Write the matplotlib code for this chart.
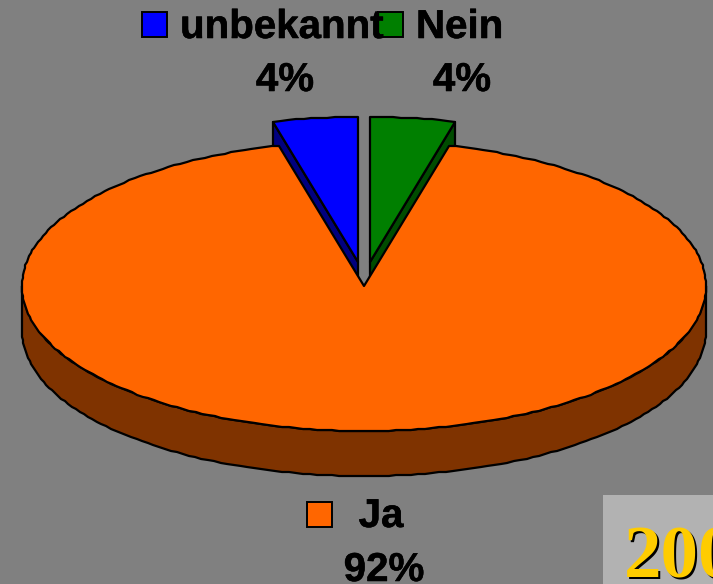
import numpy as np
from matplotlib import pyplot as plt
from matplotlib.patches import Polygon, Rectangle
from matplotlib import patheffects

labels = ["unbekannt", "Nein", "Ja"]
shares = [4, 4, 92]
share_text = ["4%", "4%", "92%"]
colors = ["#0000ff", "#007f00", "#ff6600"]
side_colors = ["#00007f", "#004c00", "#7f3300"]
year = "2000"

plt.rcParams['font.family'] = ['Liberation Sans', 'DejaVu Sans']

W, H = 713, 584
fig = plt.figure(figsize=(W / 100, H / 100), dpi=100, facecolor="#808080")
# axes in pixel coords, y pointing down like the picture
ax = fig.add_axes([0, 0, 1, 1])
ax.set_xlim(0, W)
ax.set_ylim(H, 0)
ax.axis("off")

rx, ry = 342, 145
depth = 45
cx, cy = 364, 286
# the two small slices are pulled out of the pie
offsets = [(-6, -24), (6, -24), (0, 0)]


def arc(a0, a1, center):
    # angles in degrees, clockwise from the top of the ellipse
    # coarse steps and rounding give the rough edge of the original
    t = np.radians(np.linspace(a0, a1, max(int(abs(a1 - a0) / 1.2), 5)))
    pts = np.column_stack([center[0] + rx * np.sin(t), center[1] - ry * np.cos(t)])
    return np.round(pts)


def edge(patch_pts, fc, z):
    ax.add_patch(Polygon(patch_pts, closed=True, facecolor=fc, edgecolor="black",
                         linewidth=1.6, joinstyle="round", zorder=z))


deg = np.array(shares) * 3.6
spans = [(-deg[0], 0), (0, deg[1]), (deg[1], 360 - deg[0])]

# sides of the pulled out slices, orange top covers the lower part
a0 = spans[0][0]
c0 = (cx + offsets[0][0], cy + offsets[0][1])
p = arc(a0, a0, c0)[0]
edge([p, (p[0], p[1] + depth), (c0[0], c0[1] + depth), c0], side_colors[0], 1)
a1 = spans[1][1]
c1 = (cx + offsets[1][0], cy + offsets[1][1])
p = arc(a1, a1, c1)[0]
edge([p, (p[0], p[1] + depth), (c1[0], c1[1] + depth), c1], side_colors[1], 1)

# rim of the big slice, only the front half shows
front = arc(90, 270, (cx, cy))
rim = np.vstack([front, front[::-1] + [0, depth]])
edge(rim, side_colors[2], 2)

# top faces
for i, (a, b) in enumerate(spans):
    c = (cx + offsets[i][0], cy + offsets[i][1])
    edge(np.vstack([[c], arc(a, b, c)]), colors[i], 3)

# legend boxes and texts, thin stroke because the original text is heavier
thick = [patheffects.withStroke(linewidth=0.4, foreground="black")]
font = dict(fontsize=29, fontweight="bold", color="#000000", va="center", zorder=6, path_effects=thick)
boxes = [(142, 12), (378, 12), (307, 502)]
for (x, y), col in zip(boxes, colors):
    ax.add_patch(Rectangle((x, y), 25, 25, facecolor=col, edgecolor="black", linewidth=1.4, zorder=5))
ax.text(180, 27, labels[0], ha="left", **font)
ax.text(416, 27, labels[1], ha="left", **font)
ax.text(381, 516, labels[2], ha="center", **font)
ax.text(285, 80, share_text[0], ha="center", **font)
ax.text(462, 80, share_text[1], ha="center", **font)
ax.text(384, 570, share_text[2], ha="center", **font)

# year box in the corner, runs off the page
ax.add_patch(Rectangle((603, 495), W - 603, H - 495, facecolor="#b2b2b2", edgecolor="none", zorder=5))
year_font = dict(family=['Liberation Serif', 'DejaVu Serif'], fontsize=54, fontweight="bold",
                 ha="left", va="baseline", zorder=7)
ax.text(626, 579, year, color="black", **year_font)
ax.text(624, 577, year, color="#ffcc00", **year_font)

fig.savefig("out.png", dpi=100, facecolor=fig.get_facecolor())
